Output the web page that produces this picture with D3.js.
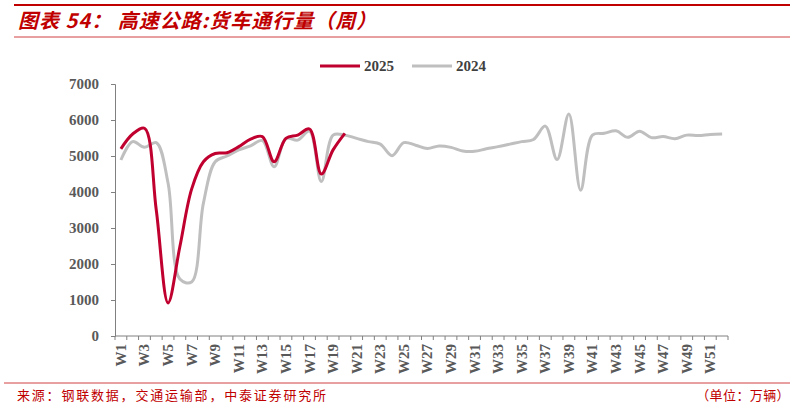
<!DOCTYPE html>
<html>
<head>
<meta charset="utf-8">
<script src="https://d3js.org/d3.v7.min.js"></script>
<style>
  body { margin: 0; background: #fff; }
  .title { font-family: "Noto Sans CJK SC", sans-serif; font-size: 20px; font-weight: bold; font-style: italic; fill: #c00000; }
  .note { font-family: "Noto Sans CJK SC", sans-serif; font-size: 13px; fill: #c00000; }
  .tick text, .lbl { font-family: "Liberation Serif", "Times New Roman", serif; font-size: 15px; font-weight: bold; fill: #595959; }
  .legend text { font-family: "Liberation Serif", serif; font-size: 15px; font-weight: bold; fill: #404040; }
  .axis path, .axis line { stroke: #808080; }
</style>
</head>
<body>
<svg id="chart" width="803" height="408"></svg>
<script>
  // weekly truck traffic on expressways, 10k vehicles
  var weeks = d3.range(1, 53).map(d => "W" + d);
  var y2024 = [4890, 5400, 5240, 5370, 4250, 1580, 1500, 3690, 4840, 5000,
               5170, 5280, 5430, 4700, 5490, 5440, 5690, 4290, 5580, 5580,
               5490, 5400, 5330, 5010, 5370, 5300, 5210, 5280, 5240, 5140,
               5130, 5200, 5260, 5330, 5400, 5460, 5830, 4900, 6170, 4050,
               5580, 5630, 5700, 5520, 5690, 5510, 5540, 5480, 5580, 5570,
               5600, 5610];
  var y2025 = [5200, 5610, 5770, 3500, 920, 2480, 4080, 4840, 5070, 5090,
               5260, 5470, 5540, 4840, 5490, 5580, 5750, 4500, 5170, 5630];
  var yTicks = [0, 1000, 2000, 3000, 4000, 5000, 6000, 7000];
  var series = [
    { name: "2025", values: y2025, color: "#c0002f" },
    { name: "2024", values: y2024, color: "#bfbfbf" }
  ];

  var svg = d3.select("#chart");

  // header / footer rules
  svg.append("line").attr("x1", 14).attr("x2", 790).attr("y1", 5).attr("y2", 5)
    .attr("stroke", "#c00000").attr("stroke-width", 2);
  svg.append("line").attr("x1", 14).attr("x2", 790).attr("y1", 37).attr("y2", 37)
    .attr("stroke", "#d04040").attr("stroke-width", 1);
  svg.append("text").attr("class", "title").attr("x", 18).attr("y", 28)
    .attr("letter-spacing", "1px")
    .text("图表 54：  高速公路:货车通行量（周）");
  svg.append("line").attr("x1", 4).attr("x2", 790).attr("y1", 383).attr("y2", 383)
    .attr("stroke", "#d04040").attr("stroke-width", 1);
  svg.append("text").attr("class", "note").attr("x", 17).attr("y", 400)
    .attr("letter-spacing", "1.8px")
    .text("来源：钢联数据，交通运输部，中泰证券研究所");
  svg.append("text").attr("class", "note").attr("x", 790).attr("y", 400)
    .attr("text-anchor", "end").attr("letter-spacing", "0.4px").text("（单位：万辆）");

  var x = d3.scaleBand().domain(weeks).range([115, 728]);
  var y = d3.scaleLinear().domain([0, 7000]).range([336, 84]);

  // y axis
  svg.append("g").attr("class", "axis").attr("transform", "translate(115,0)")
    .call(d3.axisLeft(y).tickValues(yTicks).tickSize(4).tickPadding(12).tickFormat(d3.format("d")))
    .call(g => g.selectAll("text").attr("fill", "#595959"));

  // x axis with ticks on band edges, labels on odd weeks
  var xg = svg.append("g").attr("class", "axis");
  xg.append("line").attr("x1", 115).attr("x2", 728).attr("y1", 336).attr("y2", 336);
  xg.selectAll(".tk").data(weeks.concat(["end"])).enter().append("line")
    .attr("x1", (d, i) => i < weeks.length ? x(d) : x.range()[1])
    .attr("x2", (d, i) => i < weeks.length ? x(d) : x.range()[1])
    .attr("y1", 336).attr("y2", 340);
  xg.selectAll(".lbl").data(weeks.filter((d, i) => i % 2 === 0)).enter().append("text")
    .attr("class", "lbl")
    .attr("text-anchor", "end")
    .attr("transform", d => "translate(" + (x(d) + x.bandwidth() / 2 + 5) + ",344) rotate(-90)")
    .text(d => d);

  // lines
  var line = d3.line()
    .x((d, i) => x(weeks[i]) + x.bandwidth() / 2)
    .y(d => y(d))
    .curve(d3.curveCatmullRom.alpha(0.5));

  svg.selectAll(".series").data(series.slice().reverse()).enter().append("path")
    .attr("d", d => line(d.values))
    .attr("fill", "none")
    .attr("stroke", d => d.color)
    .attr("stroke-width", 3);

  // legend
  var lg = svg.append("g").attr("class", "legend");
  series.forEach((s, i) => {
    var lx = 320 + i * 92;
    lg.append("line").attr("x1", lx).attr("x2", lx + 40).attr("y1", 66).attr("y2", 66)
      .attr("stroke", s.color).attr("stroke-width", 3);
    lg.append("text").attr("x", lx + 44).attr("y", 71).text(s.name);
  });
</script>
</body>
</html>
